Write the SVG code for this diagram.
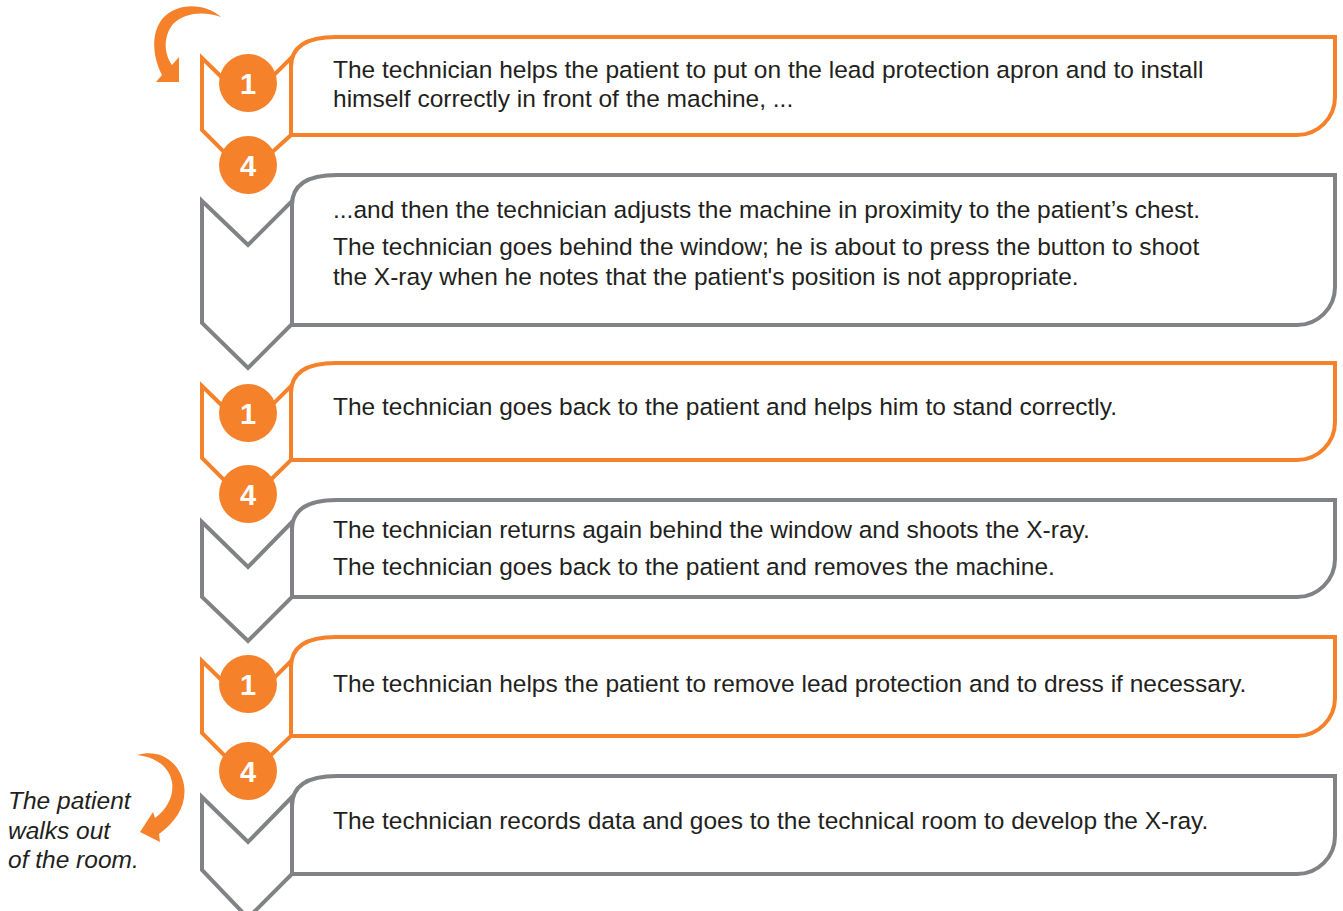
<svg xmlns="http://www.w3.org/2000/svg" width="1343" height="911" viewBox="0 0 1343 911">
<style>
.o{fill:#fff;stroke:#F5822A;stroke-width:4;stroke-linejoin:miter}
.g{fill:#fff;stroke:#808285;stroke-width:4;stroke-linejoin:miter}
.c{fill:#F5822A}
.n{font-family:"Liberation Sans",Arial,sans-serif;font-weight:bold;font-size:29px;fill:#fff;text-anchor:middle}
.t{font-family:"Liberation Sans",Arial,sans-serif;font-size:24.5px;fill:#231F20}
.i{font-family:"Liberation Sans",Arial,sans-serif;font-size:24.5px;font-style:italic;fill:#231F20}
.a{fill:#F5822A}
</style>
<rect width="1343" height="911" fill="#fff"/>
<g id="connectors">
<path class="a" d="M221,17 C205,3 178,2 163,18 C151,32 152,55 162,75 L156,82 L179,82 L179,57 L172,65 C163,52 164,35 173,24 C185,12 205,11 221,17 Z"/>
<path class="a" d="M137,755 C160,748 180,762 184,785 C187,805 176,822 159,834 L160,842 L140,832 L153,812 L155,818 C168,808 174,795 172,782 C169,766 155,757 137,755 Z"/>
</g>
<g id="step1">
<path class="o" d="M202,58 L247,102 L291,58 L291,135 L247,175 L202,130 Z"/>
<path class="o" d="M291,135 L291,67 C291,47 306,37 336,37 L1335,37 L1335,97 A38,38 0 0 1 1297,135 Z"/>
<circle class="c" cx="248" cy="83" r="29"/><text class="n" x="248" y="93.5">1</text>
<text class="t" x="333" y="78">The technician helps the patient to put on the lead protection apron and to install</text>
<text class="t" x="333" y="107">himself correctly in front of the machine, ...</text>
</g>
<g id="step2">
<path class="g" d="M202,201 L248,245 L292,201 L292,324 L248,368 L202,323 Z"/>
<path class="g" d="M292,325 L292,205 C292,185 307,175 337,175 L1335,175 L1335,287 A38,38 0 0 1 1297,325 Z"/>
<circle class="c" cx="248" cy="165" r="29"/><text class="n" x="248" y="175.5">4</text>
<text class="t" x="333" y="218">...and then the technician adjusts the machine in proximity to the patient’s chest.</text>
<text class="t" x="333" y="255">The technician goes behind the window; he is about to press the button to shoot</text>
<text class="t" x="333" y="285">the X-ray when he notes that the patient's position is not appropriate.</text>
</g>
<g id="step3">
<path class="o" d="M202,386 L247,430 L291,386 L291,460 L247,503 L202,458 Z"/>
<path class="o" d="M291,460 L291,393 C291,373 306,363 336,363 L1335,363 L1335,422 A38,38 0 0 1 1297,460 Z"/>
<circle class="c" cx="248" cy="413" r="29"/><text class="n" x="248" y="423.5">1</text>
<text class="t" x="333" y="415">The technician goes back to the patient and helps him to stand correctly.</text>
</g>
<g id="step4">
<path class="g" d="M202,522 L248,567 L292,522 L292,597 L248,641 L202,597 Z"/>
<path class="g" d="M292,597 L292,530 C292,510 307,500 337,500 L1335,500 L1335,559 A38,38 0 0 1 1297,597 Z"/>
<circle class="c" cx="248" cy="494" r="29"/><text class="n" x="248" y="504.5">4</text>
<text class="t" x="333" y="538">The technician returns again behind the window and shoots the X-ray.</text>
<text class="t" x="333" y="575">The technician goes back to the patient and removes the machine.</text>
</g>
<g id="step5">
<path class="o" d="M202,661 L247,705 L291,661 L291,736 L247,778 L202,733 Z"/>
<path class="o" d="M291,736 L291,667 C291,647 306,637 336,637 L1335,637 L1335,698 A38,38 0 0 1 1297,736 Z"/>
<circle class="c" cx="248" cy="684" r="29"/><text class="n" x="248" y="694.5">1</text>
<text class="t" x="333" y="692">The technician helps the patient to remove lead protection and to dress if necessary.</text>
</g>
<g id="step6">
<path class="g" d="M202,797 L248,842 L292,797 L292,874 L248,918 L202,870 Z"/>
<path class="g" d="M292,874 L292,806 C292,786 307,776 337,776 L1335,776 L1335,836 A38,38 0 0 1 1297,874 Z"/>
<circle class="c" cx="248" cy="771" r="29"/><text class="n" x="248" y="781.5">4</text>
<text class="t" x="333" y="829">The technician records data and goes to the technical room to develop the X-ray.</text>
</g>
<g id="note">
<text class="i" x="8" y="809">The patient</text>
<text class="i" x="8" y="839">walks out</text>
<text class="i" x="8" y="868">of the room.</text>
</g>
</svg>
